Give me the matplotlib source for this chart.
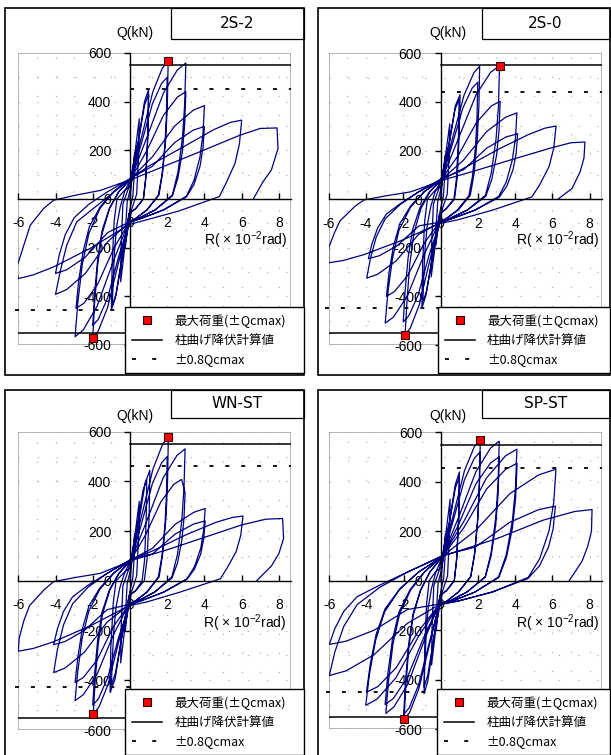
import matplotlib
matplotlib.use("Agg")
import matplotlib.pyplot as plt
from matplotlib.patches import Rectangle
from matplotlib.lines import Line2D
from matplotlib.ticker import MultipleLocator

plt.rcParams['font.family'] = ['Liberation Sans', 'Noto Sans CJK JP', 'DejaVu Sans']
plt.rcParams['axes.unicode_minus'] = False
plt.rcParams['mathtext.fontset'] = 'custom'
plt.rcParams['mathtext.rm'] = 'Liberation Sans'
plt.rcParams['mathtext.it'] = 'Liberation Sans:italic'

# ---- data: (R [x10^-2 rad], Q [kN]) ----
titles = ["2S-2", "2S-0", "WN-ST", "SP-ST"]

loop_2s2 = [
    (0, 0), (0.1, 80), (0.25, 190),
    (0.23, 100), (0.15, 10), (0.0, -40), (-0.12, -110), (-0.25, -200),
    (-0.22, -100), (-0.15, -10), (0.0, 35), (0.25, 180), (0.5, 330),
    (0.46, 180), (0.36, 20), (0.1, -40), (-0.25, -180), (-0.5, -340),
    (-0.47, -180), (-0.38, -20), (-0.1, 40), (0.45, 240), (0.78, 400), (1.0, 450),
    (0.96, 270), (0.85, 90), (0.72, 0), (0.3, -40), (-0.05, -60), (-0.45, -250), (-0.78, -405), (-1.0, -455),
    (-0.96, -270), (-0.85, -90), (-0.7, 0), (-0.3, 35), (0.05, 55), (0.45, 235), (0.78, 385), (1.0, 430),
    (0.96, 260), (0.85, 85), (0.72, 0), (0.3, -40), (-0.05, -60), (-0.42, -245), (-0.74, -390), (-0.95, -440),
    # +-2
    (-0.9, -330), (-0.83, -211), (-0.71, -110), (-0.52, -31), (-0.29, 30), (0.05, 85),
    (0.62, 255), (1.23, 441), (1.74, 538), (2.05, 566),
    (2.01, 396), (1.93, 255), (1.76, 113), (1.56, 17), (0.92, -45), (0.31, -80), (-0.05, -95),
    (-0.6, -257), (-1.2, -445), (-1.7, -542), (-2.0, -570),
    (-1.9, -428), (-1.74, -274), (-1.5, -143), (-1.1, -40), (-0.6, 30), (0.08, 88),
    (0.6, 225), (1.2, 390), (1.7, 475), (2.0, 500),
    (1.96, 350), (1.88, 225), (1.72, 100), (1.52, 15), (0.9, -45), (0.3, -80), (-0.02, -92),
    (-0.6, -234), (-1.2, -406), (-1.7, -494), (-2.0, -520),
    # +-3
    (-1.9, -390), (-1.74, -250), (-1.5, -130), (-1.1, -36), (-0.6, 30), (0.05, 82),
    (0.9, 252), (1.8, 436), (2.55, 531), (3.0, 559),
    (2.94, 391), (2.82, 252), (2.58, 112), (2.28, 17), (1.35, -45), (0.45, -80), (-0.08, -98),
    (-0.89, -255), (-1.77, -441), (-2.51, -538), (-2.95, -566),
    (-2.8, -425), (-2.57, -272), (-2.21, -142), (-1.62, -40), (-0.89, 30), (0.08, 88),
    (0.9, 198), (1.8, 344), (2.55, 419), (3.0, 441),
    (2.94, 309), (2.82, 198), (2.58, 88), (2.28, 13), (1.35, -45), (0.45, -80), (-0.05, -95),
    (-0.87, -203), (-1.74, -351), (-2.47, -428), (-2.9, -450),
    # +-4
    (-2.76, -338), (-2.52, -216), (-2.18, -113), (-1.6, -32), (-0.87, 30), (0.05, 85),
    (1.2, 173), (2.4, 300), (3.4, 365), (4.0, 384),
    (3.92, 269), (3.76, 173), (3.44, 77), (3.04, 12), (1.8, -45), (0.6, -80), (-0.08, -98),
    (-1.2, -176), (-2.4, -306), (-3.4, -372), (-4.0, -392),
    (-3.75, -298), (-3.4, -190), (-2.86, -94), (-1.97, -39), (-1.0, 20), (0.08, 88),
    (1.2, 134), (2.4, 232), (3.4, 283), (4.0, 298),
    (3.92, 209), (3.76, 134), (3.44, 60), (3.04, 9), (1.8, -45), (0.6, -80), (-0.05, -95),
    (-1.2, -138), (-2.4, -239), (-3.4, -291), (-4.0, -306),
    # +-6
    (-3.8, -230), (-3.48, -147), (-3.0, -77), (-2.2, -21), (-1.2, 30), (0.05, 85),
    (1.0, 135), (3.0, 220), (4.5, 285), (5.4, 315), (6.0, 324),
    (5.88, 227), (5.64, 146), (5.16, 65), (4.8, 10), (2.6, -50), (0.9, -85), (-0.05, -105),
    (-2.14, -203), (-4.1, -279), (-5.2, -312), (-6.0, -327),
    # +8
    (-6.1, -285), (-5.7, -190), (-5.36, -108), (-4.64, -39), (-4.1, -5), (-2.9, 16), (-1.6, 35),
    (0.2, 84), (2.0, 140), (3.75, 194), (5.9, 262), (7.0, 290), (7.9, 292),
    (7.95, 207), (7.6, 120), (7.14, 70), (6.64, 2),
]

loop_2s0 = [
    (0, 0), (0.1, 75), (0.25, 180),
    (0.23, 95), (0.15, 10), (0.0, -40), (-0.12, -105), (-0.25, -190),
    (-0.22, -95), (-0.15, -10), (0.0, 35), (0.25, 170), (0.5, 310),
    (0.46, 170), (0.36, 20), (0.1, -40), (-0.25, -170), (-0.5, -320),
    (-0.47, -170), (-0.38, -20), (-0.1, 40), (0.47, 230), (0.8, 385), (1.05, 430),
    (1.0, 260), (0.9, 90), (0.75, 0), (0.3, -40), (-0.05, -60), (-0.45, -245), (-0.78, -395), (-1.0, -448),
    (-0.96, -265), (-0.85, -90), (-0.7, 0), (-0.3, 35), (0.05, 55), (0.45, 225), (0.78, 370), (1.0, 410),
    (0.96, 245), (0.85, 80), (0.72, 0), (0.3, -40), (-0.05, -60), (-0.42, -235), (-0.74, -375), (-0.95, -425),
    # +-2
    (-0.9, -319), (-0.83, -204), (-0.71, -106), (-0.52, -30), (-0.29, 30), (0.05, 80),
    (0.63, 246), (1.26, 427), (1.79, 520), (2.1, 547),
    (2.06, 383), (1.97, 246), (1.81, 109), (1.6, 16), (0.95, -45), (0.32, -80), (-0.05, -95),
    (-0.57, -251), (-1.14, -435), (-1.62, -530), (-1.9, -558),
    (-1.8, -419), (-1.65, -268), (-1.43, -140), (-1.05, -39), (-0.57, 30), (0.08, 85),
    (0.6, 216), (1.2, 375), (1.7, 457), (2.0, 481),
    (1.96, 337), (1.88, 216), (1.72, 96), (1.52, 14), (0.9, -45), (0.3, -80), (-0.02, -92),
    (-0.6, -227), (-1.2, -394), (-1.7, -480), (-2.0, -505),
    # +-3
    (-1.9, -379), (-1.74, -242), (-1.5, -126), (-1.1, -35), (-0.6, 30), (0.05, 78),
    (0.95, 247), (1.9, 428), (2.69, 522), (3.17, 549),
    (3.11, 384), (2.98, 247), (2.73, 110), (2.41, 16), (1.43, -45), (0.48, -80), (-0.08, -98),
    (-0.89, -230), (-1.78, -398), (-2.52, -485), (-2.97, -510),
    (-2.82, -383), (-2.58, -245), (-2.23, -128), (-1.63, -36), (-0.89, 30), (0.08, 85),
    (0.96, 181), (1.92, 314), (2.72, 383), (3.2, 403),
    (3.14, 282), (3.01, 181), (2.75, 81), (2.43, 12), (1.44, -45), (0.48, -80), (-0.05, -95),
    (-0.87, -180), (-1.74, -312), (-2.47, -380), (-2.9, -400),
    # +-4
    (-2.76, -300), (-2.52, -192), (-2.18, -100), (-1.6, -28), (-0.87, 30), (0.05, 80),
    (1.23, 160), (2.46, 277), (3.49, 337), (4.1, 355),
    (4.02, 249), (3.85, 160), (3.53, 71), (3.12, 11), (1.85, -45), (0.62, -80), (-0.08, -98),
    (-1.19, -146), (-2.38, -254), (-3.37, -309), (-3.96, -325),
    (-3.76, -244), (-3.45, -156), (-2.97, -81), (-2.18, -23), (-1.19, 30), (0.08, 85),
    (1.24, 121), (2.48, 210), (3.52, 256), (4.14, 269),
    (4.06, 188), (3.89, 121), (3.56, 54), (3.15, 8), (1.86, -45), (0.62, -80), (-0.05, -95),
    (-1.16, -110), (-2.32, -191), (-3.29, -233), (-3.87, -245),
    # +-6
    (-3.68, -184), (-3.37, -118), (-2.9, -61), (-2.13, -17), (-1.16, 30), (0.05, 80),
    (1.2, 125), (3.1, 205), (4.7, 265), (5.6, 292), (6.2, 301),
    (6.08, 211), (5.83, 135), (5.33, 60), (4.9, 9), (2.8, -45), (0.93, -85), (-0.05, -100),
    (-2.1, -170), (-4.1, -228), (-5.2, -252), (-6.0, -262),
    # +8
    (-6.0, -200), (-5.7, -140), (-5.4, -90), (-4.6, -30), (-4.1, -3), (-2.9, 14), (-1.6, 30),
    (0.2, 80), (2.0, 120), (3.7, 160), (5.9, 210), (7.0, 232), (7.75, 235),
    (7.7, 170), (7.5, 114), (7.06, 44), (6.3, 0),
]

loop_wnst = [
    (0, 0), (0.1, 80), (0.25, 190),
    (0.23, 100), (0.15, 10), (0.0, -40), (-0.12, -110), (-0.25, -200),
    (-0.22, -100), (-0.15, -10), (0.0, 35), (0.25, 175), (0.5, 320),
    (0.46, 175), (0.36, 20), (0.1, -40), (-0.25, -175), (-0.5, -330),
    (-0.47, -175), (-0.38, -20), (-0.1, 40), (0.48, 240), (0.82, 395), (1.07, 445),
    (1.03, 265), (0.92, 90), (0.77, 0), (0.3, -40), (-0.05, -60), (-0.48, -245), (-0.8, -395), (-1.07, -449),
    (-1.03, -270), (-0.9, -90), (-0.75, 0), (-0.3, 35), (0.05, 55), (0.4, 225), (0.7, 365), (0.9, 408),
    (0.87, 245), (0.78, 80), (0.65, 0), (0.3, -40), (-0.05, -60), (-0.45, -230), (-0.78, -370), (-1.0, -420),
    # +-2
    (-0.95, -315), (-0.87, -202), (-0.75, -105), (-0.55, -29), (-0.3, 30), (0.05, 85),
    (0.62, 260), (1.24, 451), (1.75, 549), (2.06, 578),
    (2.02, 405), (1.94, 260), (1.77, 116), (1.57, 17), (0.93, -45), (0.31, -80), (-0.05, -95),
    (-0.59, -241), (-1.18, -417), (-1.67, -508), (-1.97, -535),
    (-1.87, -401), (-1.71, -257), (-1.48, -134), (-1.08, -37), (-0.59, 30), (0.08, 88),
    (0.6, 225), (1.2, 390), (1.7, 475), (2.0, 500),
    (1.96, 350), (1.88, 225), (1.72, 100), (1.52, 15), (0.9, -45), (0.3, -80), (-0.02, -92),
    (-0.6, -225), (-1.2, -390), (-1.7, -475), (-2.0, -500),
    # +-3
    (-1.9, -375), (-1.74, -240), (-1.5, -125), (-1.1, -35), (-0.6, 30), (0.05, 82),
    (0.89, 239), (1.78, 414), (2.52, 504), (2.96, 531),
    (2.9, 372), (2.78, 239), (2.55, 106), (2.25, 16), (1.33, -45), (0.44, -80), (-0.08, -98),
    (-0.89, -217), (-1.77, -376), (-2.51, -458), (-2.95, -482),
    (-2.8, -362), (-2.57, -231), (-2.21, -121), (-1.62, -34), (-0.89, 30), (0.08, 88),
    (0.83, 184), (1.66, 318), (2.35, 388), (2.77, 408), (2.96, 355),
    (2.9, 250), (2.78, 160), (2.55, 71), (2.25, 11), (1.33, -45), (0.44, -80), (-0.05, -95),
    (-0.89, -184), (-1.77, -319), (-2.51, -389), (-2.95, -409),
    # +-4
    (-2.8, -307), (-2.57, -196), (-2.21, -102), (-1.62, -29), (-0.89, 30), (0.05, 85),
    (1.21, 131), (2.42, 227), (3.43, 276), (4.04, 291),
    (3.96, 204), (3.8, 131), (3.47, 58), (3.07, 9), (1.82, -45), (0.61, -80), (-0.08, -98),
    (-1.23, -166), (-2.46, -288), (-3.49, -351), (-4.1, -369),
    (-3.9, -277), (-3.57, -177), (-3.08, -92), (-2.26, -26), (-1.23, 30), (0.08, 88),
    (1.21, 108), (2.42, 188), (3.43, 229), (4.04, 241),
    (3.96, 169), (3.8, 108), (3.47, 48), (3.07, 7), (1.82, -45), (0.61, -80), (-0.05, -95),
    (-1.23, -116), (-2.46, -200), (-3.49, -244), (-4.1, -257),
    # +-6
    (-3.9, -193), (-3.57, -123), (-3.08, -64), (-2.26, -18), (-1.23, 30), (0.05, 85),
    (1.2, 120), (3.0, 185), (4.6, 235), (5.5, 255), (6.07, 261),
    (5.95, 183), (5.7, 117), (5.22, 52), (4.85, 8), (2.7, -45), (0.9, -85), (-0.05, -100),
    (-2.1, -180), (-4.1, -245), (-5.2, -272), (-6.0, -283),
    # +8
    (-5.95, -230), (-5.7, -160), (-5.4, -100), (-4.6, -35), (-4.1, -3), (-2.9, 14), (-1.6, 30),
    (0.2, 85), (2.0, 125), (3.8, 170), (6.0, 225), (7.3, 248), (8.2, 251),
    (8.25, 170), (8.0, 110), (7.6, 60), (6.8, 0),
]

loop_spst = [
    (0, 0), (0.1, 80), (0.25, 190),
    (0.23, 100), (0.15, 10), (0.0, -40), (-0.12, -110), (-0.25, -200),
    (-0.22, -100), (-0.15, -10), (0.0, 35), (0.25, 180), (0.5, 330),
    (0.46, 180), (0.36, 20), (0.1, -40), (-0.25, -180), (-0.5, -340),
    (-0.47, -180), (-0.38, -20), (-0.1, 40), (0.45, 235), (0.78, 390), (1.0, 440),
    (0.96, 265), (0.85, 90), (0.72, 0), (0.3, -40), (-0.05, -60), (-0.4, -250), (-0.7, -405), (-0.9, -456),
    (-0.87, -275), (-0.77, -95), (-0.63, 0), (-0.3, 35), (0.05, 55), (0.45, 230), (0.78, 375), (1.0, 420),
    (0.96, 250), (0.85, 85), (0.72, 0), (0.3, -40), (-0.05, -60), (-0.4, -240), (-0.7, -380), (-0.9, -430),
    # +-2
    (-0.86, -323), (-0.78, -206), (-0.68, -108), (-0.5, -30), (-0.27, 35), (0.1, 100),
    (0.64, 257), (1.27, 445), (1.8, 542), (2.12, 570),
    (2.08, 399), (1.99, 257), (1.82, 114), (1.61, 17), (0.95, -45), (0.32, -82), (-0.1, -97),
    (-0.59, -252), (-1.19, -437), (-1.68, -532), (-1.98, -560),
    (-1.88, -420), (-1.72, -269), (-1.49, -140), (-1.09, -39), (-0.59, 35), (0.12, 103),
    (0.63, 234), (1.26, 406), (1.79, 494), (2.1, 520),
    (2.06, 364), (1.97, 234), (1.81, 104), (1.6, 16), (0.95, -45), (0.32, -82), (-0.07, -94),
    (-0.6, -243), (-1.2, -421), (-1.7, -513), (-2.0, -540),
    # +-3
    (-1.9, -405), (-1.74, -259), (-1.5, -135), (-1.1, -38), (-0.6, 35), (0.08, 97),
    (0.94, 254), (1.88, 440), (2.67, 536), (3.14, 564),
    (3.08, 395), (2.95, 254), (2.7, 113), (2.39, 17), (1.41, -45), (0.47, -82), (-0.13, -100),
    (-0.89, -241), (-1.78, -418), (-2.52, -509), (-2.96, -536),
    (-2.81, -402), (-2.58, -257), (-2.22, -134), (-1.63, -38), (-0.89, 35), (0.1, 100),
    (0.94, 225), (1.88, 391), (2.67, 476), (3.14, 501),
    (3.08, 351), (2.95, 225), (2.7, 100), (2.39, 15), (1.41, -45), (0.47, -82), (-0.1, -97),
    (-0.9, -225), (-1.8, -390), (-2.55, -475), (-3.0, -500),
    # +-4
    (-2.85, -375), (-2.61, -240), (-2.25, -125), (-1.65, -35), (-0.9, 35), (0.12, 103),
    (1.23, 239), (2.45, 415), (3.48, 505), (4.09, 532),
    (4.01, 372), (3.84, 239), (3.52, 106), (3.11, 16), (1.84, -45), (0.61, -82), (-0.07, -94),
    (-1.21, -226), (-2.42, -392), (-3.43, -478), (-4.04, -503),
    (-3.84, -377), (-3.51, -241), (-3.03, -126), (-2.22, -35), (-1.21, 35), (0.08, 97),
    (1.23, 214), (2.46, 371), (3.49, 451), (4.1, 475),
    (4.02, 333), (3.85, 214), (3.53, 95), (3.12, 14), (1.85, -45), (0.62, -82), (-0.13, -100),
    (-1.2, -203), (-2.4, -351), (-3.4, -428), (-4.0, -450),
    # +-6 (two cycles)
    (-3.8, -338), (-3.48, -216), (-3.0, -113), (-2.2, -32), (-1.2, 35), (0.1, 100),
    (1.86, 203), (3.71, 352), (5.26, 428), (6.19, 451),
    (6.07, 316), (5.82, 203), (5.32, 90), (4.7, 14), (2.79, -45), (0.93, -82), (-0.1, -97),
    (-1.8, -172), (-3.6, -299), (-5.1, -364), (-6.0, -383),
    (-5.7, -287), (-5.22, -184), (-4.5, -96), (-3.3, -27), (-1.8, 35), (0.12, 103),
    (1.85, 136), (3.7, 236), (5.24, 287), (6.16, 302),
    (6.04, 211), (5.79, 136), (5.3, 60), (4.68, 9), (2.77, -45), (0.92, -82), (-0.07, -94),
    (-1.8, -116), (-3.6, -200), (-5.1, -244), (-6.0, -257),
    # +8
    (-5.7, -193), (-5.22, -123), (-4.5, -64), (-3.3, -18), (-1.8, 35), (0.1, 100),
    (3.0, 170), (5.5, 245), (7.2, 280), (8.13, 288),
    (8.1, 200), (7.9, 140), (7.6, 80), (6.9, 0),
]

loops = [loop_2s2, loop_2s0, loop_wnst, loop_spst]

# max load points (+Qcmax, -Qcmax)
qmax_r = [(2.05, -1.97), (3.17, -1.9), (2.06, -1.97), (2.12, -1.98)]
qmax_q = [(566, -570), (549, -558), (578, -535), (570, -560)]

q_yield = 550  # column flexural yield (calc.)

legend_labels = ["最大荷重(±Qcmax)", "柱曲げ降伏計算値", "±0.8Qcmax"]

# ---- layout in pixels (x, y from top-left) ----
W, H = 611, 755
plot_box = [(18.3, 53.0, 291.0, 345.0), (328.7, 53.3, 601.7, 345.0),
            (18.3, 431.7, 291.0, 730.0), (329.3, 432.3, 601.7, 729.3)]
frame_box = [(5, 8, 304, 375), (317.7, 8, 609.5, 375),
             (5, 389.5, 304, 760), (317.7, 390, 609.5, 760)]
title_box = [(170.7, 8, 304, 39), (481.7, 8, 609.5, 39),
             (170.7, 389.5, 304, 417.7), (481.7, 390, 609.5, 417.7)]
legend_pos = [(125, 307.3, 304), (437.7, 307.3, 609.5),
              (125, 689.3, 304), (437, 689.3, 609.5)]
qlabel_pos = [(135, 33), (447.7, 33.3), (135, 416), (447.7, 416)]
rlabel_pos = [(287, 245), (599.3, 245), (286.7, 627.5), (599.3, 627.5)]

navy = "#000080"

fig = plt.figure(figsize=(W / 100, H / 100), dpi=100)


def fx(px):
    return px / W


def fy(py):
    return 1 - py / H


def box_rect(b, lw):
    x0, y0, x1, y1 = b
    return Rectangle((fx(x0), fy(y1)), fx(x1) - fx(x0), (y1 - y0) / H,
                     transform=fig.transFigure, fill=False, ec="black", lw=lw)


for i in range(4):
    fig.add_artist(box_rect(frame_box[i], 1.2))
    tb = title_box[i]
    fig.add_artist(box_rect(tb, 0.9))
    fig.text(fx((tb[0] + tb[2]) / 2), fy((tb[1] + tb[3]) / 2), titles[i],
             ha="center", va="center", fontsize=11, family="DejaVu Sans")

    x0, y0, x1, y1 = plot_box[i]
    ax = fig.add_axes([fx(x0), fy(y1), fx(x1) - fx(x0), (y1 - y0) / H])
    ax.set_xlim(-6, 8.65)
    ax.set_ylim(-600, 600)
    for s in ["top", "right"]:
        ax.spines[s].set_visible(False)
    ax.spines["left"].set_position(("data", 0))
    ax.spines["bottom"].set_position(("data", 0))
    for s in ["left", "bottom"]:
        ax.spines[s].set_linewidth(1.0)
    ax.add_patch(Rectangle((0, 0), 1, 1, transform=ax.transAxes, fill=False,
                           ec="#a0a0a0", lw=1.1, zorder=0.5))

    ax.set_xticks(range(-6, 9, 2))
    ax.set_yticks(range(-600, 601, 200))
    ax.xaxis.set_minor_locator(MultipleLocator(1))
    ax.yaxis.set_minor_locator(MultipleLocator(100))
    ax.tick_params(axis="x", which="major", direction="in", length=4, width=1,
                   pad=12.5, labelsize=10)
    ax.tick_params(axis="y", which="major", direction="out", length=4, width=1,
                   pad=9.5, labelsize=10)
    ax.tick_params(which="minor", length=0)
    ax.grid(which="both", color="#b0b0b0", lw=0.8, linestyle=(0, (1.2, 16)))
    ax.set_axisbelow(True)

    r, q = zip(*loops[i])
    ax.plot(r, q, color=navy, lw=0.9, zorder=2)

    # yield line and 0.8 Qcmax line
    ax.plot([0, 8.65], [q_yield, q_yield], color="black", lw=1.1, zorder=3)
    ax.plot([-6, 0], [-q_yield, -q_yield], color="black", lw=1.1, zorder=3)
    qp, qn = qmax_q[i]
    ax.plot([0, 8.65], [0.8 * qp, 0.8 * qp], color="black", lw=1.3,
            dashes=(2.2, 6.6), zorder=3)
    ax.plot([-6.2, 0], [0.8 * qn, 0.8 * qn], color="black", lw=1.3,
            dashes=(2.2, 6.6), zorder=3, clip_on=False)
    ax.plot(qmax_r[i], qmax_q[i], "s", ms=5.5, mfc="red", mec="#300000",
            mew=0.8, zorder=4, clip_on=False)

    qx, qy = qlabel_pos[i]
    fig.text(fx(qx), fy(qy), "Q(kN)", ha="center", va="center", fontsize=10)
    rx, ry = rlabel_pos[i]
    fig.text(fx(rx), fy(ry), "R( × 10$^{-2}$rad)", ha="right", va="baseline",
             fontsize=10)

    handles = [
        Line2D([], [], marker="s", ls="none", ms=6, mfc="red", mec="#300000", mew=0.8),
        Line2D([], [], color="black", lw=1.1),
        Line2D([], [], color="black", lw=1.3, dashes=(2.2, 9)),
    ]
    lx0, ly0, lx1 = legend_pos[i]
    leg = fig.legend(handles, legend_labels, loc="upper left",
                     bbox_to_anchor=(fx(lx0), fy(ly0), fx(lx1) - fx(lx0), 0.0),
                     mode="expand", prop={"family": ["Noto Sans CJK JP"], "size": 9},
                     frameon=True, fancybox=False,
                     edgecolor="black", framealpha=1, borderaxespad=0,
                     borderpad=0.55, handlelength=2.4, handletextpad=1.0,
                     labelspacing=0.5)
    leg.get_frame().set_linewidth(1.0)

fig.savefig("out.png", dpi=100)
